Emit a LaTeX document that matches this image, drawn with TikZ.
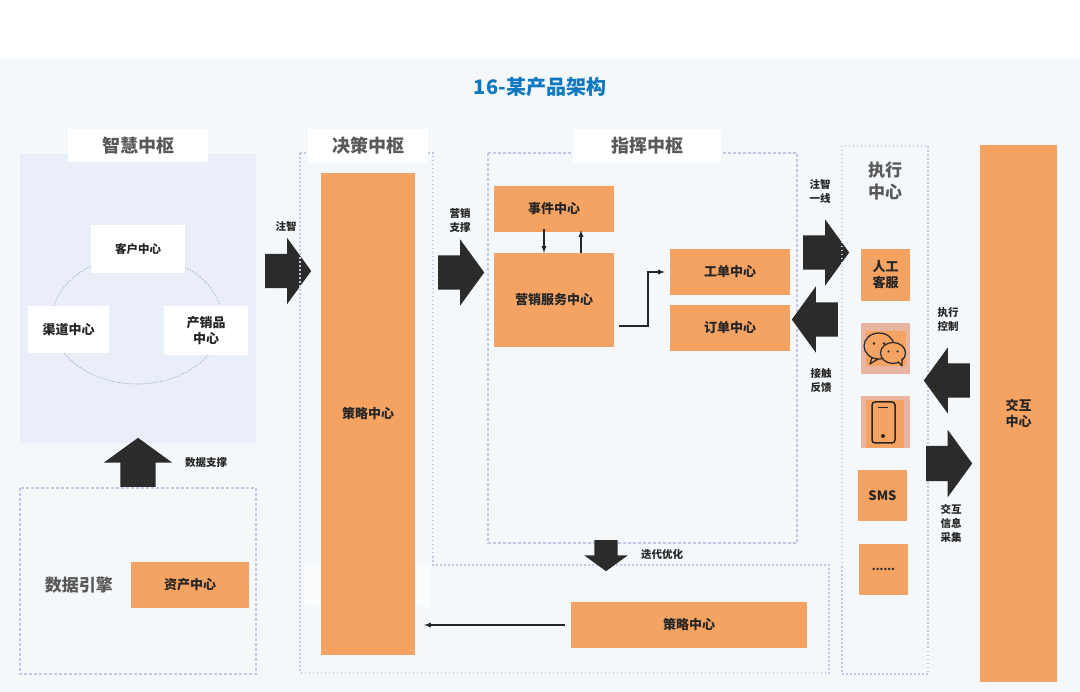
\documentclass[tikz,border=0pt]{standalone}
\usepackage{fontspec}
\setmainfont{Noto Sans CJK SC}
\usetikzlibrary{shapes.arrows}
\definecolor{pagebg}{HTML}{F4F8FB}
\definecolor{panelbg}{HTML}{E9EEF9}
\definecolor{orangebx}{HTML}{F4A362}
\definecolor{pinkbx}{HTML}{E9B5A0}
\definecolor{framec}{HTML}{C2C7E4}
\definecolor{ringc}{HTML}{8FA8BC}
\definecolor{graytx}{HTML}{595959}
\definecolor{darkar}{HTML}{2B2B2B}
\definecolor{bluetx}{HTML}{0F78C0}
\newcommand{\shft}[1]{\rule{0pt}{#1pt}}
\begin{document}
\begin{tikzpicture}[x=1pt,y=-1pt]
\tikzstyle{ob} = [fill=orangebx,inner sep=0,align=center,font=\fontsize{13}{16}\selectfont\bfseries,text=black!85] %orange box
\tikzstyle{wb} = [fill=white,inner sep=0,align=center,font=\fontsize{13}{16}\selectfont\bfseries,text=black!85] %white box
\tikzstyle{hd} = [fill=white,inner sep=0,font=\fontsize{18}{22}\selectfont\bfseries,text=graytx] %header
\tikzstyle{lb} = [inner sep=0,align=center,font=\fontsize{10.5}{14}\selectfont\bfseries,text=black!85] %arrow label
\tikzstyle{ar} = [single arrow,anchor=tail,fill=darkar,inner sep=0,single arrow tip angle=108,single arrow head extend=16pt,minimum width=66pt,minimum height=46pt] %block arrow
\tikzstyle{fr} = [draw=framec,line width=1.2pt,dash pattern=on 3pt off 2pt] %dashed frame
\tikzstyle{ln} = [-latex,line width=1.3pt,black!85] %thin arrow
\tikzset{sz/.style 2 args={minimum width=#1pt,minimum height=#2pt}}
\useasboundingbox (0,0) rectangle (1080,692);
\fill[white] (0,0) rectangle (1080,692);
\fill[pagebg] (0,58) rectangle (1080,692);
\node[inner sep=0,font=\fontsize{20}{24}\selectfont\bfseries,text=bluetx](title)at(540,87){16-某产品架构};
% left column
\fill[panelbg] (20,154) rectangle (256,443);
\draw[draw=ringc,line width=.6pt,dash pattern=on 1.5pt off 1.5pt] (137,320) ellipse [x radius=85,y radius=64];
\node[hd,sz={140}{33}](hwis)at(138,145.5){智慧中枢};
\node[wb,sz={94}{48},font=\fontsize{11.5}{14}\selectfont\bfseries](nkh)at(138,249){客户中心};
\node[wb,sz={81}{47}](nqd)at(68.5,329.5){渠道中心};
\node[wb,sz={84}{49}](ncx)at(206,330.5){产销品\\中心};
\node[ar,rotate=90,minimum width=68pt,minimum height=49pt,single arrow head extend=16.5pt](adata)at(138,487){\shft{35}};
\node[lb](ldata)at(206,463){数据支撑};
\draw[fr] (20,488) rectangle (256,674);
\node[inner sep=0,font=\fontsize{17}{20}\selectfont\bfseries,text=graytx](hdata)at(79,585){数据引擎};
\node[ob,sz={118}{46}](nzc)at(190,585){资产中心};
% decision column
\node[ar](azz)at(265,271){\shft{34}};
\node[lb](lzz)at(286,226){注智};
\draw[fr,dash pattern=on 1.5pt off 2.5pt] (300,153)--(433,153)--(433,565)--(829,565)--(829,673)--(300,673)--cycle;
\fill[white,opacity=.7] (304,565) rectangle (320,607);
\fill[white,opacity=.7] (416,565) rectangle (430,607);
\node[hd,sz={120}{33}](hjc)at(368,145.5){决策中枢};
\node[ob,sz={94}{482}](nsc)at(368,414){策略中心};
\node[ob,sz={236}{46}](nsb)at(689,625){策略中心};
\draw[ln,shorten <=6pt,shorten >=9pt] (nsb.west)--(nsc.east|-nsb.west);
% command column
\draw[fr] (488,153) rectangle (797,543);
\node[hd,sz={148}{33}](hzh)at(647,145.5){指挥中枢};
\node[ar](ayx)at(438,272.5){\shft{34}};
\node[lb](lyx)at(460,221){营销\\支撑};
\node[ob,sz={120}{46}](nsj)at(554,209){事件中心};
\node[ob,sz={120}{94}](nyx)at(554,300){营销服务中心};
\node[ob,sz={120}{46}](ngd)at(730,272){工单中心};
\node[ob,sz={120}{46}](ndd)at(730,328){订单中心};
\draw[ln,shorten <=-3pt] ([xshift=-10pt]nsj.south)--([xshift=-10pt]nyx.north);
\draw[ln,shorten >=-2pt] ([xshift=27pt]nyx.north)--([xshift=27pt]nsj.south);
\draw[ln,shorten <=5pt,shorten >=5pt] ([yshift=-26pt]nyx.east)--(648,326)|-(ngd.west);
\node[ar,rotate=-90,minimum width=43pt,minimum height=31pt,single arrow head extend=10pt](ady)at(606,540){\shft{23}};
\node[lb](ldy)at(662,554){迭代优化};
% channel column
\node[ar](azy)at(803,252.5){\shft{34}};
\node[lb](lzy)at(820,191){注智\\一线};
\node[ar,rotate=180](ajc)at(838,319.5){\shft{34}};
\node[lb](ljc)at(821,381){接触\\反馈};
\draw[fr,dash pattern=on 1.5pt off 2.5pt] (842,146) rectangle (928,674);
\node[inner sep=0,align=center,font=\fontsize{17}{22}\selectfont\bfseries,text=graytx](hzx)at(885,181){执行\\中心};
\node[ob,sz={49}{52}](nrg)at(885.5,275){人工\\客服};
\node[fill=pinkbx,sz={49}{51},inner sep=0](nwx)at(885.5,348.5){};
\fill[orangebx] (866,331) rectangle (906,366);
\node[fill=pinkbx,sz={49}{52},inner sep=0](nsj2)at(885.5,422){};
\fill[orangebx] (866,400) rectangle (904,448);
\node[ob,sz={49}{51}](nsms)at(882.5,495.5){SMS};
\node[ob,sz={49}{51},font=\fontsize{11}{13}\selectfont\bfseries](ndot)at(883.5,569.5){......};
% wechat icon
\draw[line width=1.2pt,black!85,line join=round] (872,357.5)--(870,364)--(878,359) (879,346) ellipse [x radius=15,y radius=13];
\draw[line width=1.2pt,black!85,fill=orangebx] (893,353) ellipse [x radius=12.5,y radius=10.5];
\draw[line width=1.2pt,black!85,line join=round,fill=orangebx] (898,361.5)--(902,366)--(902,358.5);
\fill[black!85] (874,343.5) circle (1.3) (884,343.5) circle (1.3) (888.5,351.5) circle (1.2) (897.5,351.5) circle (1.2);
% phone icon
\draw[line width=1.5pt,black!85,rounded corners=3pt] (872,402) rectangle (895,443);
\draw[line width=1.5pt,black!85] (878,407.5)--(888,407.5);
\fill[black!85] (883,436) circle (2);
% right column
\node[ar,rotate=180](akz)at(970,380.5){\shft{34}};
\node[lb](lkz)at(948,320){执行\\控制};
\node[ar,minimum width=67pt](acj)at(926,463.5){\shft{35}};
\node[lb](lcj)at(951,523){交互\\信息\\采集};
\node[ob,sz={77}{537}](njh)at(1018.5,413.5){交互\\中心};
\end{tikzpicture}
\end{document}
